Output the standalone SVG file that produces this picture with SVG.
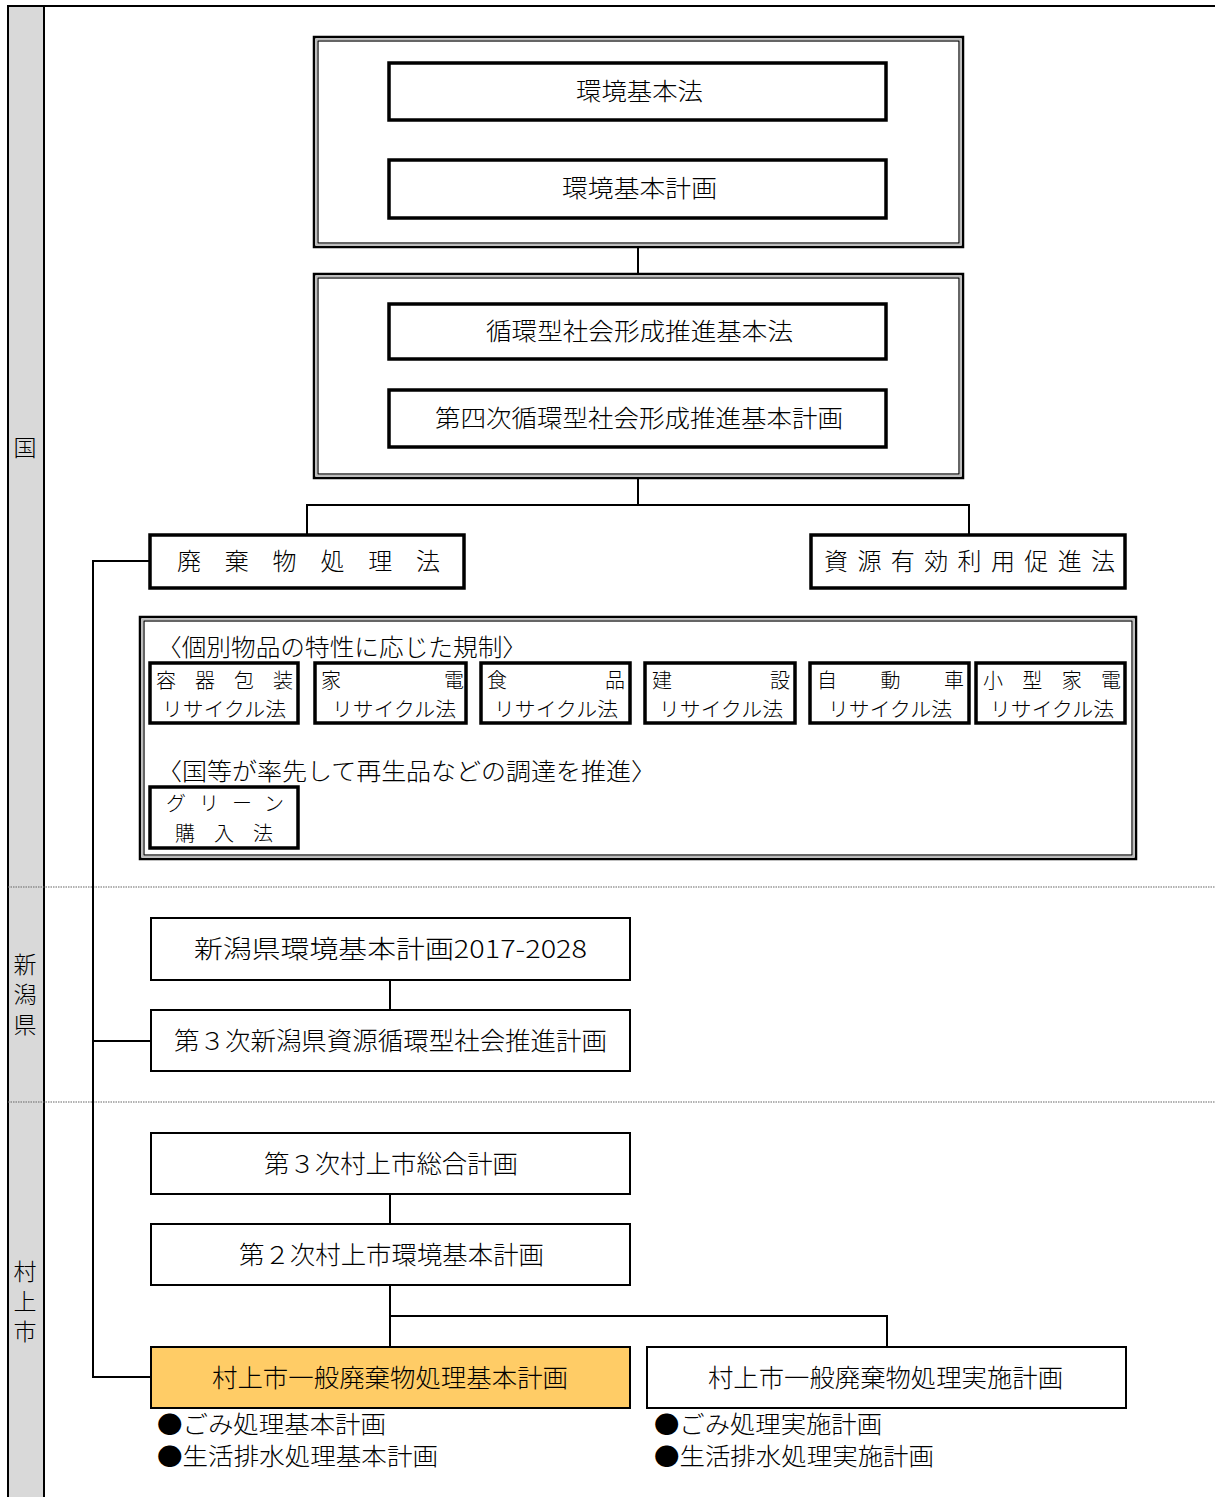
<svg xmlns="http://www.w3.org/2000/svg" width="1215" height="1497" viewBox="0 0 1215 1497">
<style>
text{font-family:"Noto Sans CJK JP","Noto Sans",sans-serif;fill:#000;font-weight:300;}
.t24{font-size:24px;}
.t26{font-size:25px;}
.t20{font-size:20px;}
.lane{font-size:23px;text-anchor:middle;}
.vlane{font-size:23px;writing-mode:vertical-rl;letter-spacing:7px;}
.m{text-anchor:middle;}
.thick{fill:#fff;stroke:#000;stroke-width:3.5;}
.thin{fill:#fff;stroke:#000;stroke-width:2;}
.dout{fill:#fff;stroke:#000;stroke-width:2.5;}
.din{fill:none;stroke:#000;stroke-width:1.2;}
.dgap{fill:none;stroke:#bbb;stroke-width:1;}
.conn{fill:none;stroke:#000;stroke-width:2;}
.sep{stroke:#666;stroke-width:1.2;stroke-dasharray:1.5 1;}
</style>
<rect x="0" y="0" width="1215" height="1497" fill="#fff"/>
<g id="frame">
<rect x="8" y="6" width="36" height="1495" fill="#d9d9d9"/>
<line x1="8" y1="6" x2="1215" y2="6" stroke="#000" stroke-width="2"/>
<line x1="8" y1="5" x2="8" y2="1497" stroke="#000" stroke-width="2"/>
<line x1="44" y1="5" x2="44" y2="1497" stroke="#000" stroke-width="2"/>
<line class="sep" x1="8" y1="887" x2="1215" y2="887"/>
<line class="sep" x1="8" y1="1102" x2="1215" y2="1102"/>
</g>
<g id="lane-kuni"><text class="lane" x="25" y="456">国</text></g>
<g id="lane-niigata"><text class="vlane" x="25" y="953">新潟県</text></g>
<g id="lane-murakami"><text class="vlane" x="25" y="1260">村上市</text></g>

<g id="connectors">
<line class="conn" x1="638" y1="247" x2="638" y2="273"/>
<polyline class="conn" points="638,478 638,505"/>
<polyline class="conn" points="307,534 307,505 969,505 969,534"/>
<polyline class="conn" points="150,561 93,561 93,1377 151,1377"/>
<line class="conn" x1="93" y1="1041" x2="151" y2="1041"/>
<line class="conn" x1="390" y1="980" x2="390" y2="1010"/>
<line class="conn" x1="390" y1="1194" x2="390" y2="1224"/>
<line class="conn" x1="390" y1="1285" x2="390" y2="1347"/>
<polyline class="conn" points="390,1316 887,1316 887,1347"/>
</g>

<g id="group-kankyo">
<rect class="dout" x="314" y="37" width="649" height="210"/>
<rect class="dgap" x="316.5" y="39.5" width="644" height="205"/>
<rect class="din" x="318" y="41" width="641" height="202"/>
</g>
<g id="kankyo-kihonho"><rect class="thick" x="389" y="63" width="497" height="57"/><text class="t24 m" x="639.5" y="100" textLength="127" lengthAdjust="spacingAndGlyphs">環境基本法</text></g>
<g id="kankyo-kihonkeikaku"><rect class="thick" x="389" y="160" width="497" height="58"/><text class="t24 m" x="639.5" y="197" textLength="155" lengthAdjust="spacingAndGlyphs">環境基本計画</text></g>

<g id="group-junkan">
<rect class="dout" x="314" y="274" width="649" height="204"/>
<rect class="dgap" x="316.5" y="276.5" width="644" height="199"/>
<rect class="din" x="318" y="278" width="641" height="196"/>
</g>
<g id="junkan-ho"><rect class="thick" x="389" y="304" width="497" height="55"/><text class="t24 m" x="639.5" y="340" textLength="307" lengthAdjust="spacingAndGlyphs">循環型社会形成推進基本法</text></g>
<g id="junkan-keikaku"><rect class="thick" x="389" y="390" width="497" height="57"/><text class="t24 m" x="639" y="427" textLength="408" lengthAdjust="spacingAndGlyphs">第四次循環型社会形成推進基本計画</text></g>

<g id="haikibutsu-ho"><rect class="thick" x="150" y="535" width="314" height="53"/><text class="t24" x="177" y="570" textLength="263" lengthAdjust="spacing">廃棄物処理法</text></g>
<g id="shigen-ho"><rect class="thick" x="811" y="535" width="314" height="53"/><text class="t24" x="824" y="570" textLength="291" lengthAdjust="spacing">資源有効利用促進法</text></g>

<g id="group-kobetsu">
<rect class="dout" x="140" y="617" width="996" height="242"/>
<rect class="dgap" x="142.5" y="619.5" width="991" height="237"/>
<rect class="din" x="144" y="621" width="988" height="234"/>
<text class="t24" x="157" y="656" textLength="370" lengthAdjust="spacingAndGlyphs">〈個別物品の特性に応じた規制〉</text>
<text class="t24" x="157" y="780" textLength="499" lengthAdjust="spacingAndGlyphs">〈国等が率先して再生品などの調達を推進〉</text>
</g>
<g id="yoki"><rect class="thick" x="150" y="663" width="148" height="60"/><text class="t20" x="156" y="688" textLength="137" lengthAdjust="spacing">容器包装</text><text class="t20 m" x="224" y="717" textLength="124" lengthAdjust="spacingAndGlyphs">リサイクル法</text></g>
<g id="kaden"><rect class="thick" x="315" y="663" width="151" height="60"/><text class="t20" x="321" y="688" textLength="143" lengthAdjust="spacing">家電</text><text class="t20 m" x="394" y="717" textLength="124" lengthAdjust="spacingAndGlyphs">リサイクル法</text></g>
<g id="shokuhin"><rect class="thick" x="481" y="663" width="149" height="60"/><text class="t20" x="487" y="688" textLength="138" lengthAdjust="spacing">食品</text><text class="t20 m" x="556" y="717" textLength="124" lengthAdjust="spacingAndGlyphs">リサイクル法</text></g>
<g id="kensetsu"><rect class="thick" x="645" y="663" width="150" height="60"/><text class="t20" x="652" y="688" textLength="138" lengthAdjust="spacing">建設</text><text class="t20 m" x="721" y="717" textLength="124" lengthAdjust="spacingAndGlyphs">リサイクル法</text></g>
<g id="jidousha"><rect class="thick" x="810" y="663" width="159" height="60"/><text class="t20" x="817" y="688" textLength="147" lengthAdjust="spacing">自動車</text><text class="t20 m" x="890" y="717" textLength="124" lengthAdjust="spacingAndGlyphs">リサイクル法</text></g>
<g id="kogata"><rect class="thick" x="976" y="663" width="149" height="60"/><text class="t20" x="983" y="688" textLength="138" lengthAdjust="spacing">小型家電</text><text class="t20 m" x="1052" y="717" textLength="124" lengthAdjust="spacingAndGlyphs">リサイクル法</text></g>
<g id="green"><rect class="thick" x="150" y="787" width="148" height="61"/><text class="t20" x="166" y="811" textLength="118" lengthAdjust="spacing">グリーン</text><text class="t20" x="175" y="841" textLength="98" lengthAdjust="spacing">購入法</text></g>

<g id="niigata-kankyo"><rect class="thin" x="151" y="918" width="479" height="62"/><text class="t26 m" x="390.5" y="958" textLength="393" lengthAdjust="spacingAndGlyphs">新潟県環境基本計画2017-2028</text></g>
<g id="niigata-junkan"><rect class="thin" x="151" y="1010" width="479" height="61"/><text class="t26 m" x="390.5" y="1050" textLength="433" lengthAdjust="spacingAndGlyphs">第３次新潟県資源循環型社会推進計画</text></g>

<g id="murakami-sogo"><rect class="thin" x="151" y="1133" width="479" height="61"/><text class="t26 m" x="391" y="1173" textLength="254" lengthAdjust="spacingAndGlyphs">第３次村上市総合計画</text></g>
<g id="murakami-kankyo"><rect class="thin" x="151" y="1224" width="479" height="61"/><text class="t26 m" x="391.5" y="1264" textLength="305" lengthAdjust="spacingAndGlyphs">第２次村上市環境基本計画</text></g>
<g id="murakami-kihon"><rect x="151" y="1347" width="479" height="61" fill="#ffcc66" stroke="#000" stroke-width="2"/><text class="t26 m" x="390" y="1387" textLength="356" lengthAdjust="spacingAndGlyphs">村上市一般廃棄物処理基本計画</text>
<text class="t24" x="157" y="1433" textLength="229" lengthAdjust="spacingAndGlyphs">●ごみ処理基本計画</text>
<text class="t24" x="157" y="1465" textLength="281" lengthAdjust="spacingAndGlyphs">●生活排水処理基本計画</text></g>
<g id="murakami-jisshi"><rect class="thin" x="647" y="1347" width="479" height="61"/><text class="t26 m" x="885.5" y="1387" textLength="355" lengthAdjust="spacingAndGlyphs">村上市一般廃棄物処理実施計画</text>
<text class="t24" x="654" y="1433" textLength="228" lengthAdjust="spacingAndGlyphs">●ごみ処理実施計画</text>
<text class="t24" x="654" y="1465" textLength="280" lengthAdjust="spacingAndGlyphs">●生活排水処理実施計画</text></g>
</svg>
